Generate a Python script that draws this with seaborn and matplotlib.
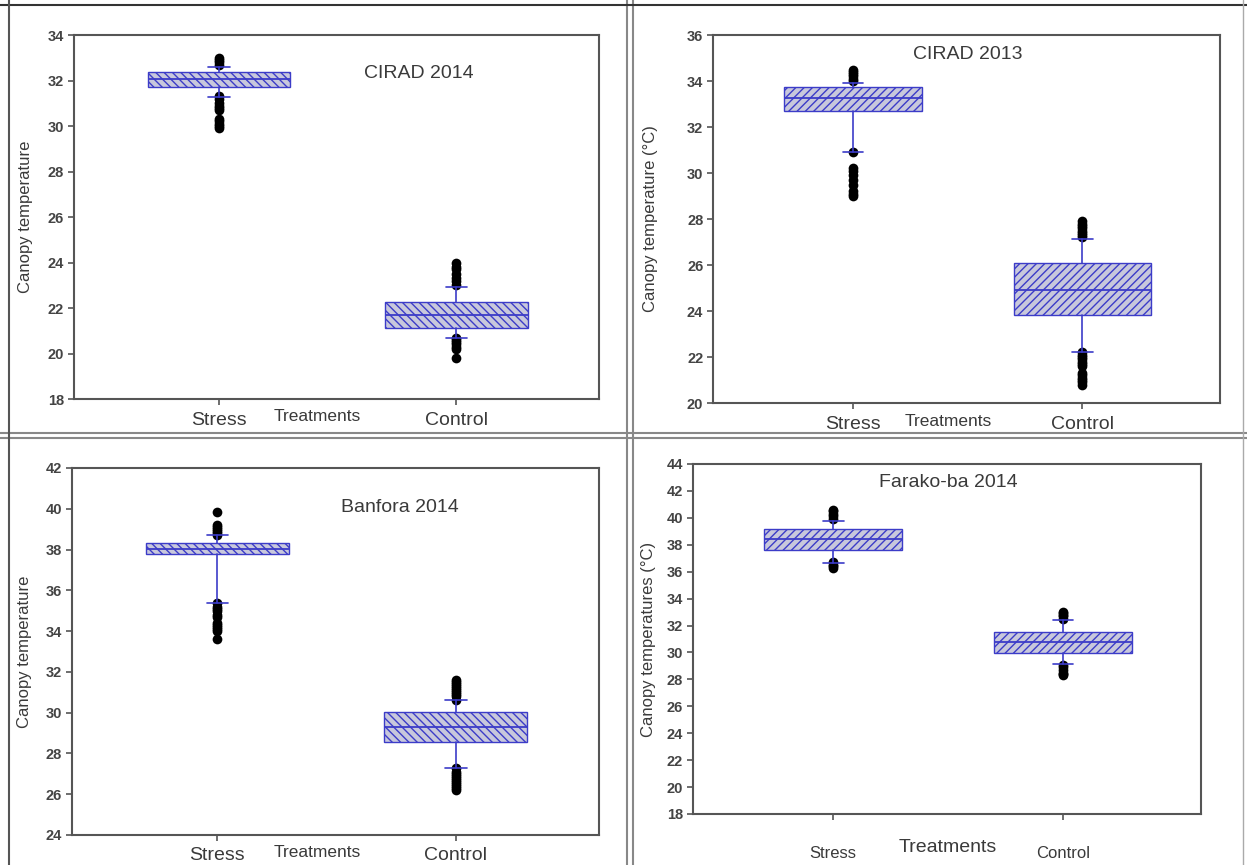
import numpy as np
import pandas as pd
import matplotlib.pyplot as plt
import seaborn as sns
from matplotlib.lines import Line2D

sns.set_style("ticks")
plt.rcParams['font.family'] = ['Liberation Sans', 'DejaVu Sans']
plt.rcParams['hatch.linewidth'] = 1.0

treatments = ["Stress", "Control"]

# box statistics, order = [Stress, Control]
cirad14_q1 = [31.73, 21.14]
cirad14_med = [32.07, 21.69]
cirad14_q3 = [32.39, 22.28]
cirad14_lo = [31.29, 20.70]
cirad14_hi = [32.61, 22.94]
cirad14_out_stress = [32.7, 32.8, 32.9, 33.0, 31.3, 31.2, 31.0, 30.9, 30.8, 30.7,
                      30.3, 30.2, 30.1, 30.0, 29.9]
cirad14_out_control = [23.0, 23.2, 23.3, 23.5, 23.7, 23.8, 24.0,
                       20.7, 20.6, 20.5, 20.4, 20.3, 20.2, 19.8]

cirad13_q1 = [32.71, 23.81]
cirad13_med = [33.25, 24.92]
cirad13_q3 = [33.73, 26.08]
cirad13_lo = [30.93, 22.22]
cirad13_hi = [33.90, 27.14]
cirad13_out_stress = [34.0, 34.1, 34.2, 34.3, 34.4, 34.5,
                      30.9, 30.2, 30.1, 29.9, 29.7, 29.5, 29.2, 29.1, 29.0]
cirad13_out_control = [27.2, 27.3, 27.4, 27.5, 27.6, 27.7, 27.8, 27.9,
                       22.2, 22.1, 22.0, 21.9, 21.8, 21.7, 21.6,
                       21.3, 21.2, 21.1, 21.0, 20.9, 20.8]

banfora14_q1 = [37.79, 28.55]
banfora14_med = [38.04, 29.28]
banfora14_q3 = [38.32, 30.05]
banfora14_lo = [35.40, 27.27]
banfora14_hi = [38.73, 30.63]
banfora14_out_stress = [39.85, 39.2, 39.1, 39.0, 38.9, 38.8, 38.7,
                        35.4, 35.2, 35.1, 35.0, 34.8, 34.7, 34.4, 34.3, 34.2, 34.1, 34.0, 33.6]
banfora14_out_control = [30.6, 30.8, 30.9, 31.0, 31.1, 31.2, 31.3, 31.4, 31.5, 31.6,
                         27.3, 27.1, 27.0, 26.9, 26.8, 26.7, 26.6, 26.5, 26.4, 26.3, 26.2]

farako14_q1 = [37.63, 29.95]
farako14_med = [38.42, 30.77]
farako14_q3 = [39.19, 31.51]
farako14_lo = [36.64, 29.13]
farako14_hi = [39.79, 32.43]
farako14_out_stress = [39.9, 40.1, 40.3, 40.5, 40.6, 36.7, 36.5, 36.4, 36.3]
farako14_out_control = [32.5, 32.7, 32.8, 32.9, 33.0, 29.1, 28.9, 28.7, 28.5, 28.4, 28.3]

panels = [
    dict(title="CIRAD 2014", ylabel="Canopy temperature",
         q1=cirad14_q1, med=cirad14_med, q3=cirad14_q3, lo=cirad14_lo, hi=cirad14_hi,
         out_s=cirad14_out_stress, out_c=cirad14_out_control,
         ylim=(18, 34), hatch="\\\\\\\\", pos=[0.0593, 0.5387, 0.4210, 0.4208],
         title_xy=(0.657, 0.893), treat_xy=(0.463, -0.047), treat_fs=12.5,
         tick_fs=14, tick_pad=5, ylab_x=-0.078),
    dict(title="CIRAD 2013", ylabel="Canopy temperature (°C)",
         q1=cirad13_q1, med=cirad13_med, q3=cirad13_q3, lo=cirad13_lo, hi=cirad13_hi,
         out_s=cirad13_out_stress, out_c=cirad13_out_control,
         ylim=(20, 36), hatch="////", pos=[0.5718, 0.5341, 0.4066, 0.4254],
         title_xy=(0.503, 0.948), treat_xy=(0.464, -0.051), treat_fs=12.5,
         tick_fs=14, tick_pad=5, ylab_x=-0.108),
    dict(title="Banfora 2014", ylabel="Canopy temperature",
         q1=banfora14_q1, med=banfora14_med, q3=banfora14_q3, lo=banfora14_lo, hi=banfora14_hi,
         out_s=banfora14_out_stress, out_c=banfora14_out_control,
         ylim=(24, 42), hatch="\\\\\\\\", pos=[0.0577, 0.0347, 0.4226, 0.4243],
         title_xy=(0.622, 0.892), treat_xy=(0.465, -0.049), treat_fs=12.5,
         tick_fs=14, tick_pad=5, ylab_x=-0.075),
    dict(title="Farako-ba 2014", ylabel="Canopy temperatures (°C)",
         q1=farako14_q1, med=farako14_med, q3=farako14_q3, lo=farako14_lo, hi=farako14_hi,
         out_s=farako14_out_stress, out_c=farako14_out_control,
         ylim=(18, 44), hatch="////", pos=[0.5557, 0.0590, 0.4074, 0.4046],
         title_xy=(0.502, 0.946), treat_xy=(0.502, -0.097), treat_fs=14,
         tick_fs=12, tick_pad=19, ylab_x=-0.073),
]

blue = "#3c3cc8"
fill = "#c8c8dc"
txt = "#3a3a3a"

fig = plt.figure(figsize=(12.47, 8.65), dpi=100)

for p in panels:
    ax = fig.add_axes(p["pos"])

    # outliers, drawn by seaborn on the categorical axis
    out = pd.DataFrame({
        "Treatment": ["Stress"] * len(p["out_s"]) + ["Control"] * len(p["out_c"]),
        "Temp": p["out_s"] + p["out_c"],
    })
    sns.stripplot(data=out, x="Treatment", y="Temp", order=treatments,
                  jitter=False, color="black", size=7, ax=ax, zorder=2)

    stats = []
    for i in range(2):
        stats.append(dict(med=p["med"][i], q1=p["q1"][i], q3=p["q3"][i],
                          whislo=p["lo"][i], whishi=p["hi"][i], fliers=[]))
    ax.bxp(stats, positions=[0, 1], widths=0.6, capwidths=0.09,
           patch_artist=True, showfliers=False, manage_ticks=False,
           boxprops=dict(facecolor=fill, edgecolor=blue, hatch=p["hatch"], linewidth=1.0),
           medianprops=dict(color=blue, linewidth=1.3),
           whiskerprops=dict(color=blue, linewidth=1.2),
           capprops=dict(color=blue, linewidth=1.2),
           zorder=3)

    ax.set_xlim(-0.61, 1.60)
    ax.set_ylim(*p["ylim"])
    ax.set_yticks(np.arange(p["ylim"][0], p["ylim"][1] + 1, 2))
    ax.set_xticks([0, 1])
    ax.set_xticklabels(treatments)
    ax.set_xlabel("")
    ax.set_ylabel(p["ylabel"], fontsize=12, color=txt)
    ax.yaxis.set_label_coords(p["ylab_x"], 0.5)
    ax.tick_params(axis="y", labelsize=10.5, length=4, width=1.2, colors="#555555",
                   labelcolor="#444444", pad=3)
    for lab in ax.get_yticklabels():
        lab.set_fontweight("bold")
    ax.tick_params(axis="x", labelsize=p["tick_fs"], length=4, width=1.2, colors="#555555",
                   labelcolor=txt, pad=p["tick_pad"])
    for s in ax.spines.values():
        s.set_color("#555555")
        s.set_linewidth(1.5)

    ax.text(*p["title_xy"], p["title"], transform=ax.transAxes, ha="center",
            va="center", fontsize=14, color=txt)
    ax.text(*p["treat_xy"], "Treatments", transform=ax.transAxes, ha="center",
            va="center", fontsize=p["treat_fs"], color=txt)

# screenshot frames between the four panels
W, H = 1247, 865
def vline(x, c, lw):
    fig.add_artist(Line2D([x / W, x / W], [0, 1], color=c, lw=lw, transform=fig.transFigure))
def hline(y, c, lw):
    fig.add_artist(Line2D([0, 1], [1 - y / H, 1 - y / H], color=c, lw=lw, transform=fig.transFigure))

vline(627, "#888888", 1.5)
vline(633, "#888888", 1.5)
hline(433, "#888888", 1.5)
hline(438, "#888888", 1.5)
hline(5, "#333333", 1.5)
vline(9, "#555555", 1.5)
vline(1243, "#aaaaaa", 1.0)

fig.savefig("out.png", dpi=100)
